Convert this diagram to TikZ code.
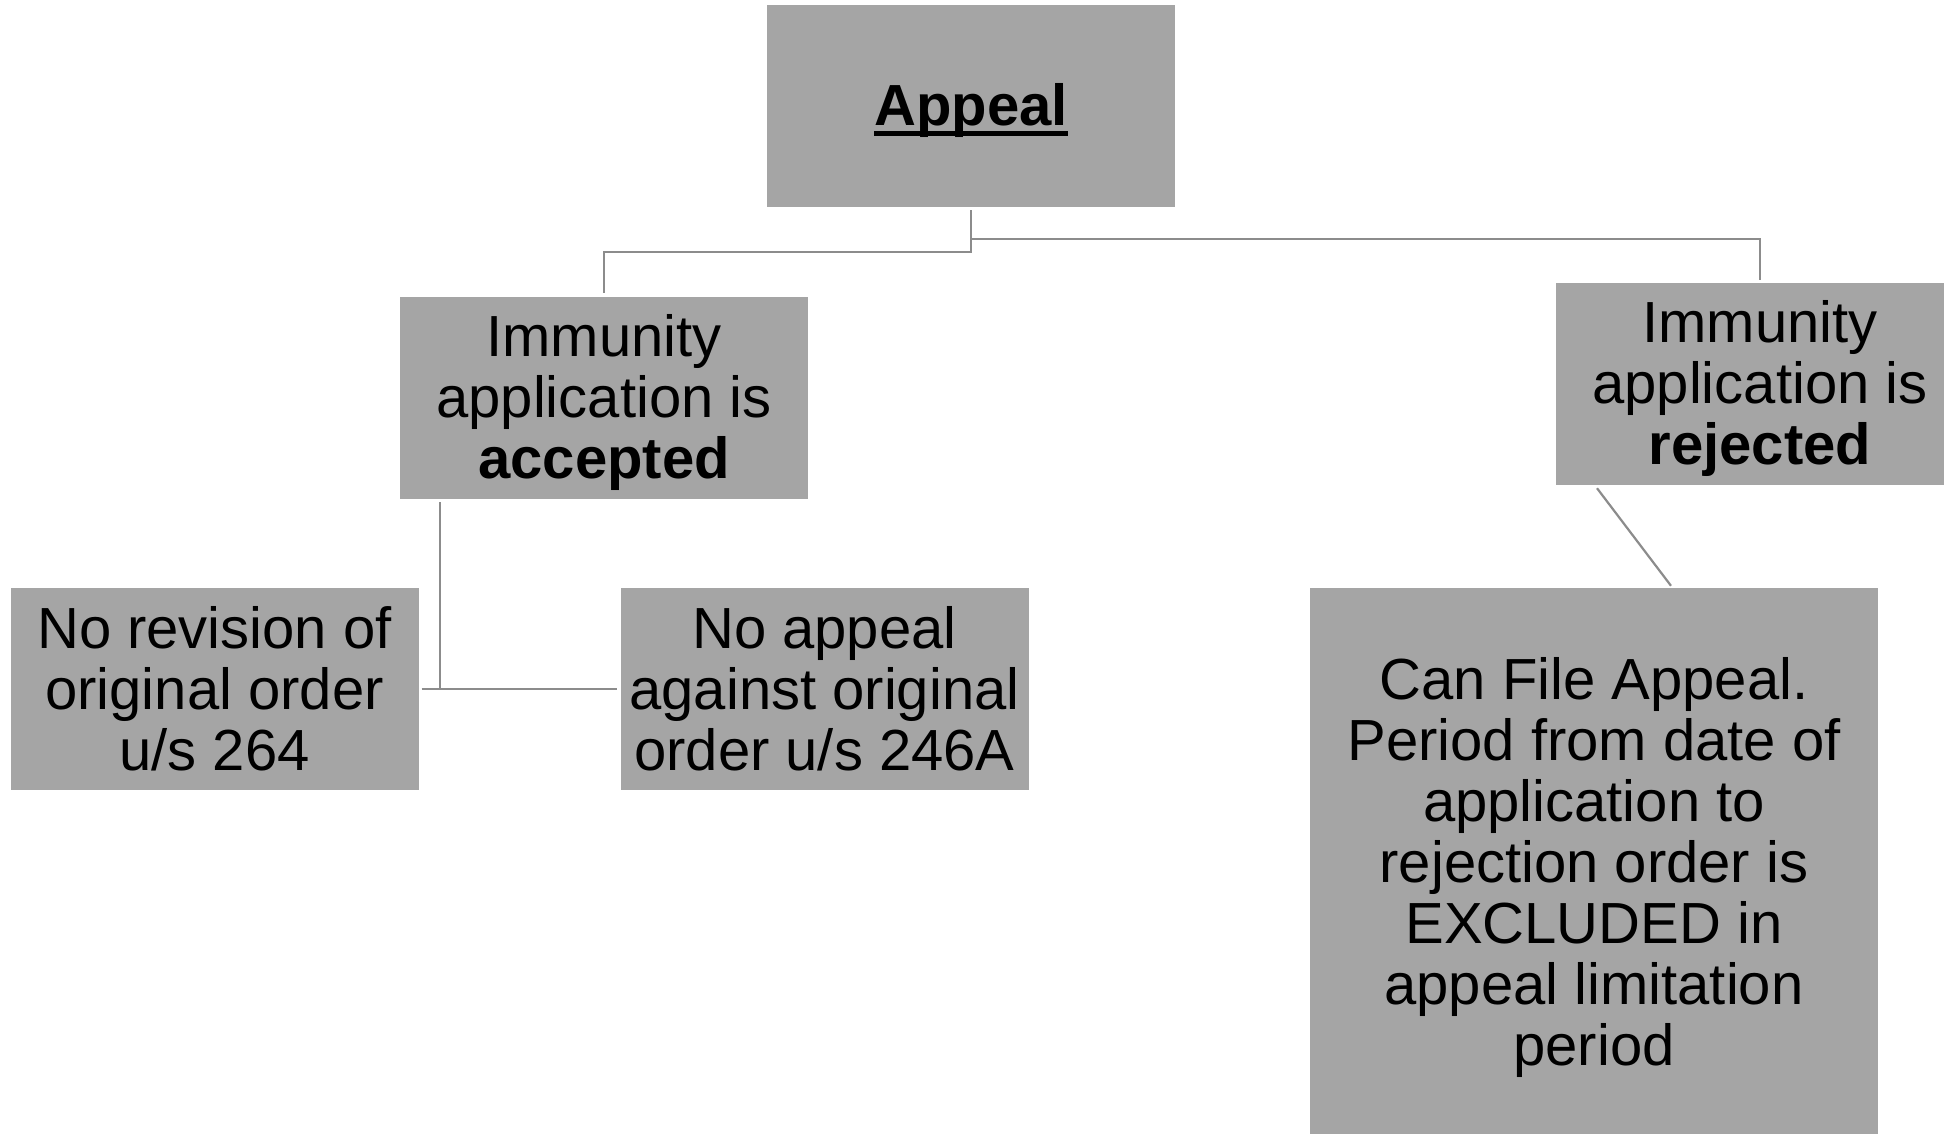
\documentclass[tikz,border=0pt]{standalone}
\usepackage{fontspec}
\setmainfont{Liberation Sans}
\usepackage{xcolor}
\definecolor{boxgray}{RGB}{165,165,165}
\definecolor{linegray}{RGB}{140,140,140}
\newcommand{\lowul}[1]{\setbox0\hbox{#1}\rlap{\rule[-11pt]{\wd0}{5pt}}\box0}
\newcommand{\topgap}{\rule{0pt}{51pt}}

\begin{document}
\begin{tikzpicture}[x=1pt, y=-1pt]
  \tikzstyle{mybox}=[rectangle, fill=boxgray, draw=none, inner sep=0pt,
    minimum width=408pt, minimum height=202pt, align=center,
    font=\fontsize{58}{61}\selectfont];
  \tikzstyle{myline}=[line width=2.2pt, linegray];
  \useasboundingbox (0, 0) rectangle (1944, 1134);
  %
  % top
  \node[mybox] (appeal) at (971, 106) {\topgap\lowul{\textbf{Appeal}}};
  %
  % second level
  \node[mybox] (accepted) at (604, 398)
    {\topgap Immunity\\ application is\\ \textbf{accepted}};
  \node[mybox] (rejected) at (1760, 384)
    {\topgap Immunity\\ application is\\ \textbf{rejected}};
  %
  % third level
  \node[mybox] (norevision) at (214.5, 689)
    {No revision of\\ original order\\ u/s 264};
  \node[mybox] (noappeal) at (824.5, 689)
    {No appeal\\ against original\\ order u/s 246A};
  \node[mybox, minimum width=568pt, minimum height=550pt] (canfile) at (1594, 863)
    {\topgap Can File Appeal.\\ Period from date of\\ application to\\ rejection order is\\
      EXCLUDED in\\ appeal limitation\\ period};
  %
  % connectors
  \draw[myline] ([yshift=-3pt]appeal.south) -- ++(0, 42)
    -| ([yshift=4pt]accepted.north);
  \draw[myline] ([yshift=-3pt]appeal.south) -- ++(0, 29)
    -| ([yshift=3pt]rejected.north);
  \draw[myline] ([xshift=3pt]norevision.east) -- ([xshift=-3pt]noappeal.west);
  \draw[myline] ([xshift=-164pt, yshift=-3pt]accepted.south)
    |- ([xshift=-3pt]noappeal.west);
  \draw[myline] ([xshift=-163pt, yshift=-3pt]rejected.south)
    -- ([xshift=77pt, yshift=2pt]canfile.north);
\end{tikzpicture}
\end{document}
